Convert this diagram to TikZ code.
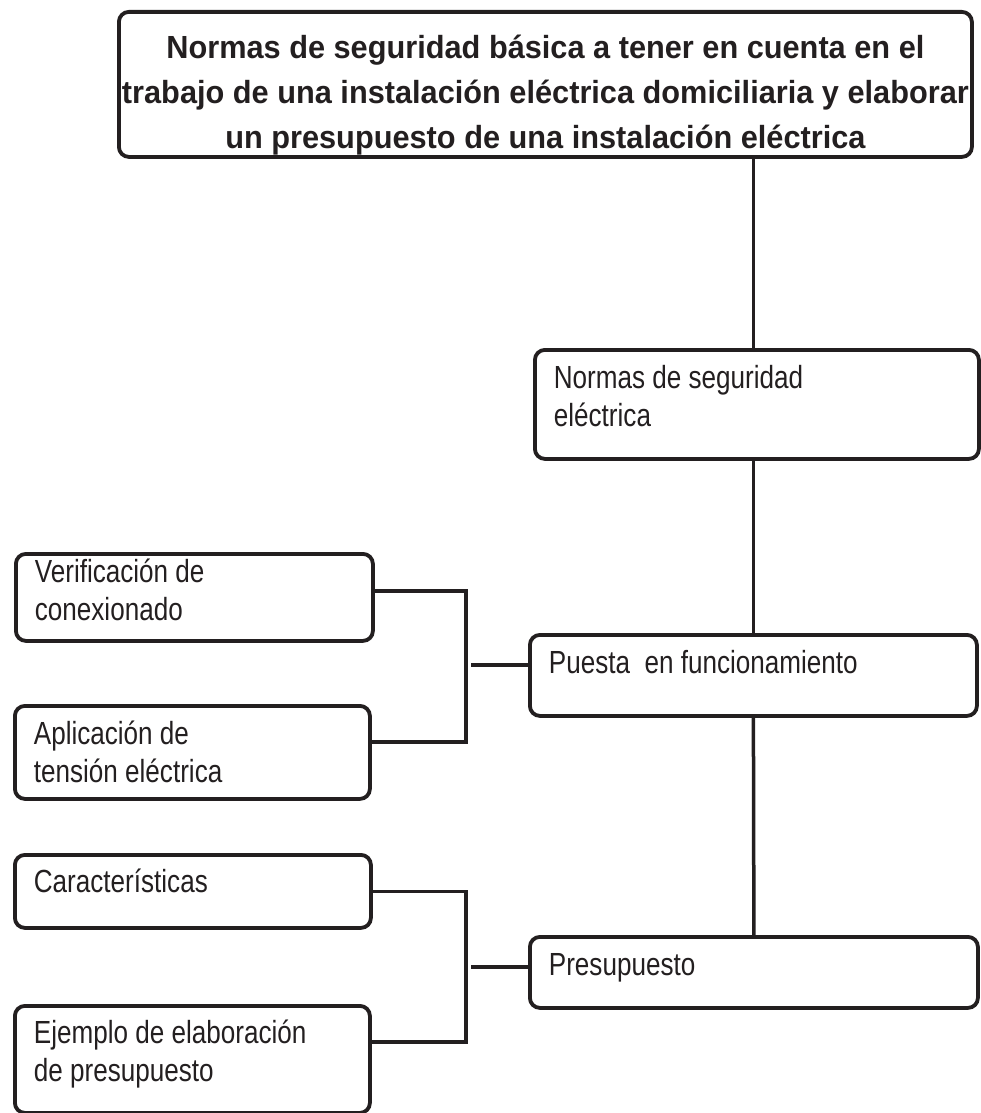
\documentclass[tikz,border=0pt]{standalone}
\usepackage{fontspec}
\setmainfont{Liberation Sans}
\newfontfamily\estrecha{Liberation Sans}[FakeStretch=0.815]
\newfontfamily\titular{Liberation Sans}[FakeStretch=0.96]
\usepackage{tikz}
\definecolor{linea}{HTML}{231F20}
\newcommand{\cajatxt}[4][39pt]{\parbox[c][#3][t]{\dimexpr#2-38pt\relax}{\raggedright\rule{0pt}{#1}#4}}

\begin{document}
\begin{tikzpicture}[x=1pt, y=-1pt,
  caja/.style={draw=linea, text=linea, line width=3.8pt, rounded corners=10pt,
    anchor=north west, inner xsep=19pt, inner ysep=0pt,
    font=\estrecha\fontsize{32}{38}\selectfont},
  enlace/.style={draw=linea, line width=3.5pt}]

  \useasboundingbox (0,0) rectangle (980,1113);

  \node[caja, inner xsep=0pt, font=\titular\bfseries\fontsize{32}{45}\selectfont] (titulo) at (117,10)
    {\parbox[c][145pt][t]{853pt}{%
      \makebox[\linewidth]{\rule{0pt}{47pt}Normas de seguridad básica a tener en cuenta en el}\par
      \makebox[\linewidth]{trabajo de una instalación eléctrica domiciliaria y elaborar}\par
      \makebox[\linewidth]{un presupuesto de una instalación eléctrica}}};

  \node[caja] (nse) at (533,348) {\cajatxt{444pt}{109pt}{Normas de seguridad\\eléctrica}};
  \node[caja] (puesta) at (528,633) {\cajatxt{447pt}{81pt}{Puesta\ \ en funcionamiento}};
  \node[caja] (pres) at (528,935) {\cajatxt{448pt}{71pt}{Presupuesto}};

  \node[caja] (verif) at (14,552) {\cajatxt[29pt]{357pt}{87pt}{Verificación de\\conexionado}};
  \node[caja] (aplic) at (13,704) {\cajatxt{355pt}{93pt}{Aplicación de\\tensión eléctrica}};
  \node[caja] (caract) at (13,853) {\cajatxt[38pt]{356pt}{73pt}{Características}};
  \node[caja] (ejemplo) at (13,1004) {\cajatxt[38pt]{355pt}{107pt}{Ejemplo de elaboración\\de presupuesto}};

  \draw[enlace] (titulo.south -| puesta.north) -- (nse.north -| puesta.north); %% titulo->nse
  \draw[enlace] (nse.south -| puesta.north) -- (puesta.north); %% nse->puesta
  \draw[enlace] (puesta.south) -- (pres.north); %% puesta->pres

  \coordinate (llave1) at (466,665);
  \coordinate (llave2) at (466,967);

  \draw[enlace] ([yshift=6.5pt]verif.east) -| (llave1) |- ([yshift=10.5pt]aplic.east); %% verif, aplic
  \draw[enlace] ([xshift=5pt]llave1) -- (llave1 -| puesta.west); %% llave->puesta

  \draw[enlace] (caract.east) -| (llave2) |- ([yshift=17.5pt]ejemplo.east); %% caract, ejemplo
  \draw[enlace] ([xshift=5pt]llave2) -- (llave2 -| pres.west); %% llave->pres

\end{tikzpicture}
\end{document}
